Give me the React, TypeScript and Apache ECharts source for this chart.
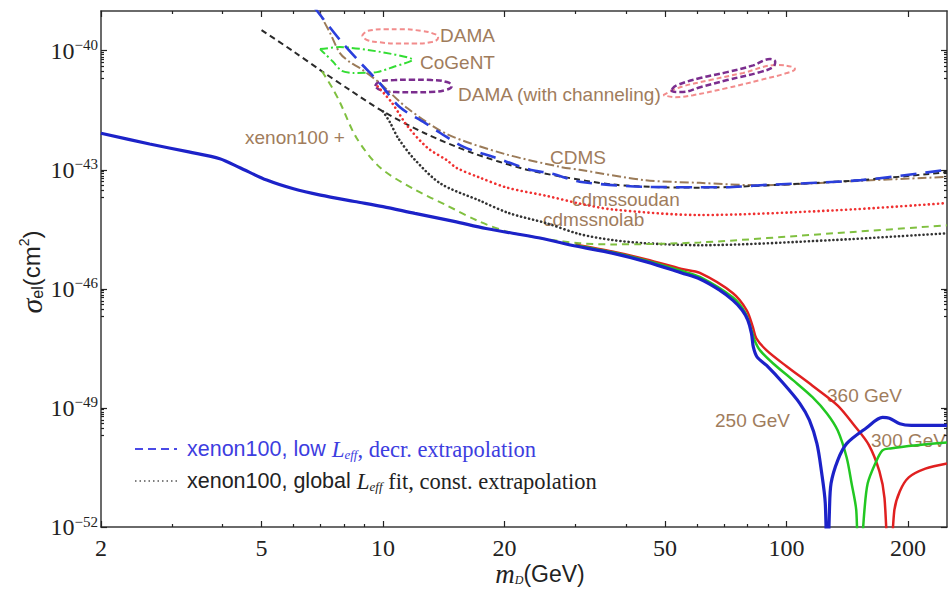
import React, { useEffect, useRef } from "react";
import * as echarts from "echarts";

// ---------- axes ----------
const X_MIN = 2;
const X_MAX = 250;
const Y_MIN = -52; // log10(sigma / cm^2)
const Y_MAX = -39;
const xMajorTicks = [2, 5, 10, 20, 50, 100, 200];
const xMinorTicks = [3, 4, 6, 7, 8, 9, 30, 40, 60, 70, 80, 90];
const yMajorExponents = [-52, -49, -46, -43, -40];

// ---------- series: [m_D (GeV), log10 sigma_el (cm^2)] ----------
const xenonPlus250 = [
  [2, -42.08], [2.64, -42.35], [3.3, -42.55], [3.94, -42.72], [4.42, -42.95], [5.15, -43.26],
  [6.0, -43.48], [7.0, -43.64], [8.5, -43.8], [10, -43.93], [12, -44.1], [15, -44.3],
  [18, -44.48], [24.5, -44.72], [30, -44.92], [37, -45.1], [45, -45.32], [55, -45.6],
  [61, -45.75], [68, -46.02], [73.7, -46.29], [77.7, -46.54], [80.2, -46.79], [81.9, -47.12],
  [82.8, -47.47], [84.6, -47.72], [89.3, -47.93], [98.2, -48.38], [108, -48.89], [114, -49.31],
  [119, -49.9], [122, -50.57], [124.8, -51.4], [126.3, -53.5], [127.8, -51.6], [129, -50.9],
  [134, -50.32], [141, -49.9], [158, -49.5], [173, -49.24], [180, -49.26], [191, -49.4],
  [204, -49.44], [250, -49.44],
];
const xenonPlus300 = [
  [30, -44.9], [37, -45.08], [45, -45.29], [55, -45.55], [61, -45.7], [73.7, -46.22],
  [79, -46.6], [81.9, -47.04], [83.4, -47.3], [86, -47.55], [92.7, -47.88], [103.8, -48.3],
  [116, -48.73], [126, -49.14], [134, -49.57], [141, -50.25], [145, -50.9], [149, -51.6],
  [151, -53.5], [156, -51.6], [159, -50.9], [166, -50.4], [173, -50.07], [181, -50.02],
  [210, -49.94], [250, -49.87],
];
const xenonPlus360 = [
  [30, -44.89], [37, -45.06], [45, -45.26], [55, -45.5], [61, -45.6], [73.7, -46.11],
  [79.7, -46.54], [82.6, -46.97], [84.2, -47.25], [89.3, -47.55], [100, -47.95], [116, -48.44],
  [134, -48.94], [147, -49.43], [160, -49.93], [170, -50.6], [175, -51.27], [180, -53.5],
  [185, -51.6], [191, -51.1], [201, -50.75], [221, -50.53], [250, -50.4],
];
const xenonLowLeff = [
  [6.75, -38.9], [7.82, -39.73], [8.8, -40.31], [9.8, -40.81], [11.0, -41.42], [12.7, -41.82],
  [13.9, -42.08], [15.9, -42.43], [18.8, -42.68], [23.2, -43.0], [26.3, -43.1], [30.7, -43.3],
  [44.5, -43.43], [61, -43.44], [71, -43.44], [86, -43.39], [153, -43.26], [250, -43.0],
];
const xenonDashed = [
  [5.0, -39.48], [6.0, -40.02], [7.06, -40.52], [8.3, -41.0], [10, -41.53], [12.7, -42.08],
  [16.7, -42.58], [22.4, -42.98], [27.6, -43.17], [37, -43.37], [49, -43.44], [61, -43.45],
  [86, -43.4], [153, -43.26], [250, -43.06],
];
const cdms = [
  [6.85, -38.9], [7.0, -39.1], [7.39, -39.55], [7.82, -40.06], [8.28, -40.29], [8.8, -40.45],
  [9.8, -40.81], [11.5, -41.45], [14.4, -42.1], [20, -42.6], [27.6, -42.93], [30.7, -43.0],
  [44.5, -43.26], [61, -43.33], [86, -43.39], [150, -43.28], [250, -43.18],
];
const cdmsSoudan = [
  [9.7, -40.9], [10.5, -41.3], [11.5, -41.9], [12.9, -42.45], [14.4, -42.76], [15.2, -42.95],
  [17.3, -43.19], [20.3, -43.45], [25.5, -43.66], [30.7, -43.85], [37, -44.0], [61, -44.14],
  [133, -44.02], [250, -43.84],
];
const xenonGlobalLeff = [
  [10, -41.53], [10.4, -41.8], [10.9, -42.2], [12, -42.75], [13.9, -43.35], [17.3, -43.77],
  [20.5, -44.09], [25.5, -44.35], [30.7, -44.62], [37, -44.77], [44.5, -44.85], [61, -44.9],
  [131, -44.77], [250, -44.6],
];
const cdmsSnolab = [
  [7.06, -40.52], [7.5, -40.95], [7.82, -41.3], [8.6, -42.2], [9.85, -42.95], [12, -43.5],
  [14.4, -43.9], [17.3, -44.3], [20.5, -44.57], [25.5, -44.75], [30.7, -44.85], [37, -44.88],
  [61, -44.83], [131, -44.6], [250, -44.4],
];
const damaLow = [
  [8.87, -39.63], [9.18, -39.5], [10.1, -39.46], [11.0, -39.46], [12.4, -39.5], [13.5, -39.59],
  [13.7, -39.67], [13.2, -39.78], [12.0, -39.82], [11.0, -39.82], [9.83, -39.79], [9.13, -39.73],
  [8.87, -39.63],
];
const damaChannelingLow = [
  [9.56, -40.89], [9.89, -40.76], [10.7, -40.74], [11.9, -40.73], [13.2, -40.74], [14.4, -40.79],
  [14.8, -40.89], [14.3, -40.99], [13.1, -41.04], [11.9, -41.05], [10.7, -41.04], [9.89, -41.0],
  [9.56, -40.89],
];
const cogent = [
  [6.98, -39.96], [7.82, -39.91], [9.84, -40.03], [11.86, -40.23], [10.6, -40.41], [9.66, -40.54],
  [8.43, -40.56], [7.9, -40.51], [7.52, -40.28], [7.18, -40.08], [6.98, -39.96],
];
const damaChannelingHigh = [
  [52, -40.97], [53.5, -40.87], [61.1, -40.69], [71.3, -40.54], [82.7, -40.37], [91.1, -40.21],
  [93.8, -40.28], [92.7, -40.41], [86, -40.54], [71.3, -40.74], [61.1, -40.92], [55.4, -41.04],
  [52, -41.02], [52, -40.97],
];
const damaHigh = [
  [49.5, -41.12], [54.5, -40.92], [64.7, -40.74], [78.1, -40.56], [94.8, -40.36], [103.8, -40.41],
  [105, -40.46], [100.4, -40.56], [86, -40.74], [71.3, -40.94], [58.7, -41.12], [53, -41.17],
  [49.5, -41.12],
];

const LABEL_COLOR = "#a07c5c";
const SANS = "Liberation Sans";
const SERIF = "Liberation Serif";

function toXY(pts: number[][]) {
  return pts.map(([m, e]) => [Math.log10(m), e]);
}

function lineSeries(name: string, pts: number[][], color: string, width: number, type: any, smooth: number, cap = "butt") {
  return {
    name,
    type: "line",
    data: toXY(pts),
    showSymbol: false,
    symbol: "none",
    smooth,
    clip: true,
    silent: true,
    lineStyle: { color, width, type, cap },
  };
}

function label(text: string, x: number, y: number) {
  return {
    type: "text",
    x,
    y,
    silent: true,
    style: {
      text,
      fill: LABEL_COLOR,
      fontFamily: SANS,
      fontSize: 19,
      textAlign: "left",
      textVerticalAlign: "middle",
      align: "left",
      verticalAlign: "middle",
    },
  };
}

function legendText(prefix: string, suffix: string, color: string, y: number) {
  return {
    type: "text",
    x: 187,
    y,
    silent: true,
    style: {
      text: `{a|${prefix}}{L|L}{s|eff}{b|${suffix}}`,
      fill: color,
      textAlign: "left",
      textVerticalAlign: "middle",
      align: "left",
      verticalAlign: "middle",
      rich: {
        a: { fontFamily: SANS, fontSize: 21.5, fill: color, lineHeight: 24 },
        L: { fontFamily: SERIF, fontStyle: "italic", fontSize: 23, fill: color, lineHeight: 24 },
        s: { fontFamily: SERIF, fontStyle: "italic", fontSize: 13, fill: color, verticalAlign: "bottom", lineHeight: 11 },
        b: { fontFamily: SERIF, fontSize: 22.5, fill: color, lineHeight: 24 },
      },
    },
  };
}

export default function App() {
  const ref = useRef<HTMLDivElement>(null);
  useEffect(() => {
    if (!ref.current) return;
    const chart = echarts.init(ref.current, undefined, { renderer: "svg" });

    const xMajor = xMajorTicks.map((v) => Math.log10(v));
    const xMinor = xMinorTicks.map((v) => Math.log10(v));
    const yMinor: number[] = [];
    yMajorExponents.forEach((k) => {
      if (k - 1 >= Y_MIN) for (let n = 2; n <= 9; n++) yMinor.push(k - 1 + Math.log10(n));
    });
    const frame = { show: true, lineStyle: { color: "#3a3a3a", width: 1.5 } };
    const noLine = { show: false };
    const tickStyle = { color: "#222", width: 1.2 };
    const baseX = { type: "value", min: Math.log10(X_MIN), max: Math.log10(X_MAX), splitLine: { show: false } };
    const baseY = { type: "value", min: Y_MIN, max: Y_MAX, splitLine: { show: false } };

    chart.setOption({
      animation: false,
      backgroundColor: "#ffffff",
      grid: { left: 101, top: 11, right: 2, bottom: 63 },
      xAxis: [
        {
          ...baseX,
          position: "bottom",
          axisLine: frame,
          axisTick: { show: true, inside: true, length: 6, customValues: xMajor, lineStyle: tickStyle },
          axisLabel: {
            show: true,
            customValues: xMajor,
            margin: 9,
            formatter: (v: number) => String(Math.round(Math.pow(10, v))),
            fontFamily: SERIF,
            fontSize: 24,
            color: "#222",
          },
        },
        {
          ...baseX,
          position: "bottom",
          axisLine: noLine,
          axisTick: { show: true, inside: true, length: 3, customValues: xMinor, lineStyle: tickStyle },
          axisLabel: { show: false },
        },
        {
          ...baseX,
          position: "top",
          axisLine: frame,
          axisTick: { show: true, inside: true, length: 6, customValues: xMajor, lineStyle: tickStyle },
          axisLabel: { show: false },
        },
        {
          ...baseX,
          position: "top",
          axisLine: noLine,
          axisTick: { show: true, inside: true, length: 3, customValues: xMinor, lineStyle: tickStyle },
          axisLabel: { show: false },
        },
      ],
      yAxis: [
        {
          ...baseY,
          position: "left",
          axisLine: frame,
          axisTick: { show: true, inside: true, length: 6, customValues: yMajorExponents, lineStyle: tickStyle },
          axisLabel: {
            show: true,
            customValues: yMajorExponents,
            margin: 3,
            formatter: (v: number) => `{b|10}{e|\u2212${Math.abs(v)}}`,
            rich: {
              b: { fontFamily: SERIF, fontSize: 24, color: "#222", lineHeight: 26 },
              e: { fontFamily: SERIF, fontSize: 15, color: "#222", verticalAlign: "top", lineHeight: 14 },
            },
          },
        },
        {
          ...baseY,
          position: "left",
          axisLine: noLine,
          axisTick: { show: true, inside: true, length: 3, customValues: yMinor, lineStyle: tickStyle },
          axisLabel: { show: false },
        },
        {
          ...baseY,
          position: "right",
          axisLine: frame,
          axisTick: { show: true, inside: true, length: 6, customValues: yMajorExponents, lineStyle: tickStyle },
          axisLabel: { show: false },
        },
        {
          ...baseY,
          position: "right",
          axisLine: noLine,
          axisTick: { show: true, inside: true, length: 3, customValues: yMinor, lineStyle: tickStyle },
          axisLabel: { show: false },
        },
      ],
      series: [
        lineSeries("DAMA", damaLow, "#f28c8c", 2, [5, 3], 0.5),
        lineSeries("DAMA high", damaHigh, "#f28c8c", 2, [5, 3], 0.4),
        lineSeries("DAMA (with channeling)", damaChannelingLow, "#7b2d8e", 2.5, [6, 3], 0.5),
        lineSeries("DAMA (with channeling) high", damaChannelingHigh, "#7b2d8e", 2.5, [6, 3], 0.4),
        lineSeries("CoGeNT", cogent, "#33dd33", 2, [8, 3, 2, 3], 0.25),
        lineSeries("CDMS", cdms, "#9b7b58", 2, [9, 3, 2, 3], 0.3),
        lineSeries("xenon100 dashed", xenonDashed, "#2a2a2a", 2, [6, 4], 0.3),
        lineSeries("cdmssoudan", cdmsSoudan, "#f03030", 2.6, [0.1, 4.5], 0.3, "round"),
        lineSeries("xenon100 global Leff", xenonGlobalLeff, "#333333", 2.6, [0.1, 4], 0.3, "round"),
        lineSeries("cdmssnolab", cdmsSnolab, "#80c040", 2, [7, 5], 0.3),
        lineSeries("xenon100 low Leff", xenonLowLeff, "#2b3fdc", 2.6, [16, 9], 0.3),
        lineSeries("360 GeV", xenonPlus360, "#e02020", 2.5, "solid", 0.3),
        lineSeries("300 GeV", xenonPlus300, "#22c722", 2.5, "solid", 0.3),
        lineSeries("250 GeV", xenonPlus250, "#1c22c8", 3.2, "solid", 0.3),
      ],
      graphic: [
        label("DAMA", 440, 35),
        label("CoGeNT", 420, 62),
        label("DAMA (with channeling)", 458, 94),
        label("xenon100 +", 245, 137),
        label("CDMS", 550, 157),
        label("cdmssoudan", 572, 199),
        label("cdmssnolab", 543, 219),
        label("250 GeV", 715, 420),
        label("360 GeV", 827, 395),
        label("300 GeV", 871, 440),
        {
          type: "line",
          silent: true,
          shape: { x1: 135, y1: 449, x2: 177, y2: 449 },
          style: { stroke: "#4a4ae6", lineWidth: 2, lineDash: [8, 5] },
        },
        {
          type: "line",
          silent: true,
          shape: { x1: 135, y1: 481, x2: 177, y2: 481 },
          style: { stroke: "#555555", lineWidth: 1.6, lineDash: [1.5, 3] },
        },
        legendText("xenon100, low ", ", decr. extrapolation", "#3d3de0", 449),
        legendText("xenon100, global ", " fit, const. extrapolation", "#222222", 481),
        {
          type: "text",
          x: 540,
          y: 574,
          silent: true,
          style: {
            text: "{m|m}{d|D}{g|(GeV)}",
            fill: "#222222",
            textAlign: "center",
            textVerticalAlign: "middle",
            align: "center",
            verticalAlign: "middle",
            rich: {
              m: { fontFamily: SERIF, fontStyle: "italic", fontSize: 27, fill: "#222222", lineHeight: 24 },
              d: { fontFamily: SERIF, fontStyle: "italic", fontSize: 12, fill: "#222222", verticalAlign: "bottom", lineHeight: 13 },
              g: { fontFamily: SANS, fontSize: 23, fill: "#222222", lineHeight: 24 },
            },
          },
        },
        {
          type: "text",
          x: 31,
          y: 272,
          rotation: Math.PI / 2,
          silent: true,
          style: {
            text: "{s|\u03c3}{e|el}{p|(cm}{t|2}{p|)}",
            fill: "#222222",
            textAlign: "center",
            textVerticalAlign: "middle",
            align: "center",
            verticalAlign: "middle",
            rich: {
              s: { fontFamily: SERIF, fontStyle: "italic", fontSize: 30, fill: "#222222", lineHeight: 28 },
              e: { fontFamily: SANS, fontSize: 16, fill: "#222222", verticalAlign: "bottom", lineHeight: 12 },
              p: { fontFamily: SANS, fontSize: 24, fill: "#222222", lineHeight: 28 },
              t: { fontFamily: SANS, fontSize: 14, fill: "#222222", verticalAlign: "top", lineHeight: 14 },
            },
          },
        },
      ],
    });
    return () => chart.dispose();
  }, []);

  return (
    <div
      ref={ref}
      style={{ position: "absolute", left: 0, top: 0, width: 949, height: 590, background: "#fff" }}
    />
  );
}
